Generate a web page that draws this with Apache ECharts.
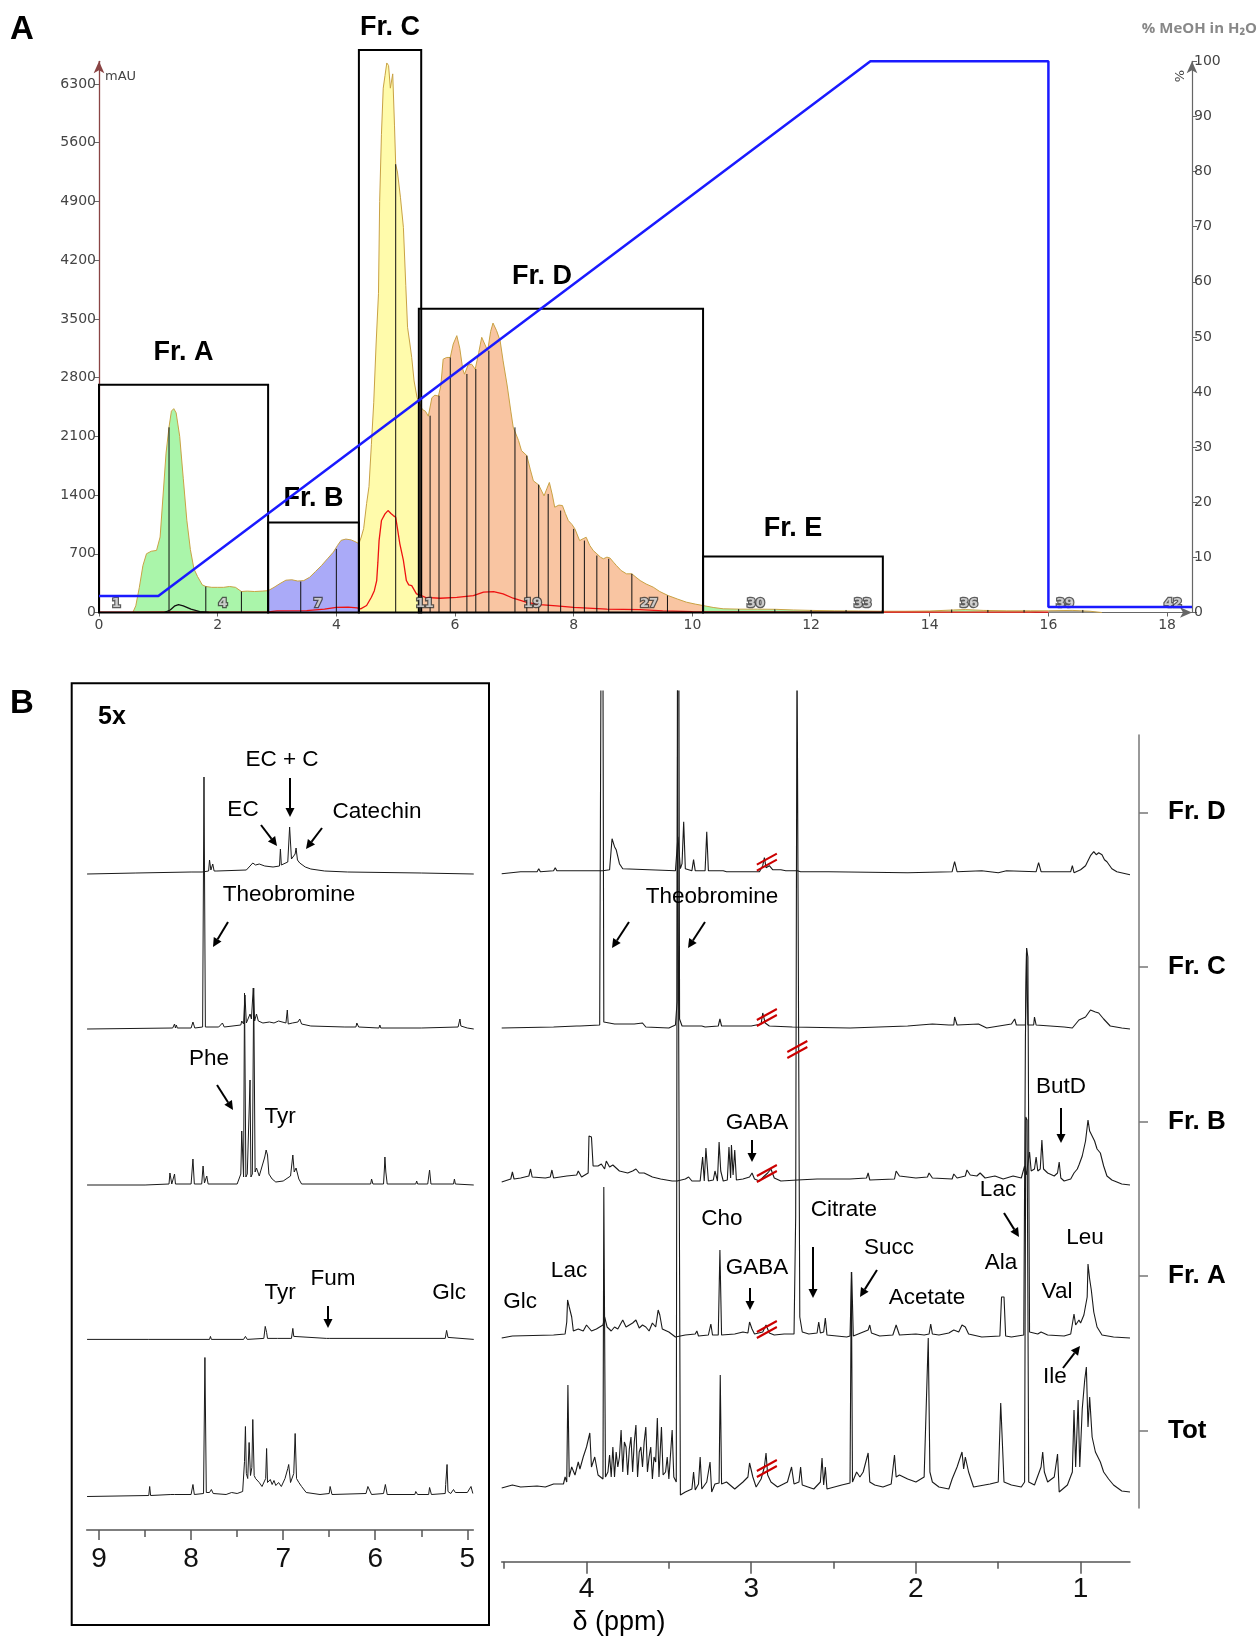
<!DOCTYPE html>
<html>
<head>
<meta charset="utf-8">
<script src="https://cdn.jsdelivr.net/npm/echarts@6/dist/echarts.min.js"></script>
<style>
  html, body { margin: 0; padding: 0; background: #fff; }
  #chart { width: 1259px; height: 1637px; }
</style>
</head>
<body>
<div id="chart"></div>
<script>
// ---------- panel A: chromatogram ----------
const chromatogram = [
  [0, 0], [0.57, 0], [0.62, 80], [0.68, 300], [0.74, 560], [0.80, 700], [0.88, 730], [0.97, 740], [1.03, 900],
  [1.08, 1400], [1.13, 1900], [1.18, 2210], [1.22, 2400], [1.26, 2430], [1.30, 2380], [1.36, 2100], [1.42, 1600],
  [1.48, 1100], [1.54, 750], [1.60, 520], [1.66, 430], [1.74, 330], [1.80, 310], [1.90, 300], [2.00, 300],
  [2.10, 300], [2.20, 310], [2.30, 300], [2.40, 250], [2.50, 255], [2.62, 250], [2.75, 255], [2.85, 260],
  [2.95, 300], [3.05, 345], [3.15, 385], [3.25, 390], [3.35, 375], [3.45, 380], [3.55, 420], [3.65, 490],
  [3.75, 560], [3.85, 640], [3.95, 720], [4.02, 800], [4.08, 860], [4.16, 875], [4.25, 865], [4.33, 840], [4.38, 820],
  [4.42, 900], [4.46, 1000], [4.51, 1300], [4.55, 1500], [4.59, 2000], [4.63, 2500], [4.67, 3200], [4.71, 3800],
  [4.73, 4900], [4.76, 5700], [4.79, 6250], [4.82, 6400], [4.85, 6550], [4.88, 6520], [4.91, 6250], [4.95, 6420],
  [4.98, 5800], [5.00, 5340], [5.03, 5250], [5.08, 4950], [5.13, 4590], [5.17, 3900], [5.20, 3400], [5.24, 3200],
  [5.27, 3040], [5.31, 2760], [5.36, 2560], [5.40, 2500],
  [5.45, 2420], [5.50, 2400], [5.55, 2340], [5.58, 2350], [5.61, 2560], [5.66, 2590], [5.72, 2580], [5.76, 2700],
  [5.80, 3020], [5.86, 3040], [5.92, 3040], [5.97, 3200], [6.03, 3300], [6.08, 3150], [6.13, 2900], [6.16, 2840],
  [6.22, 2950], [6.28, 2960], [6.34, 2900], [6.40, 3100], [6.45, 3280], [6.50, 3200], [6.55, 3120], [6.60, 3350],
  [6.64, 3450], [6.70, 3360], [6.76, 3240], [6.81, 3000], [6.88, 2700], [6.94, 2400], [6.98, 2210], [7.01, 2220],
  [7.07, 2050], [7.12, 1930], [7.21, 1870], [7.27, 1700], [7.32, 1570], [7.41, 1520], [7.50, 1390], [7.55, 1480],
  [7.59, 1550], [7.64, 1400], [7.68, 1255], [7.75, 1280], [7.81, 1275], [7.86, 1180], [7.91, 1095], [7.97, 1050],
  [8.02, 997], [8.10, 857], [8.16, 880], [8.21, 897], [8.27, 800], [8.33, 738], [8.39, 700], [8.45, 660],
  [8.50, 640], [8.56, 660], [8.61, 650], [8.67, 600], [8.72, 560], [8.80, 500], [8.89, 461], [8.98, 461],
  [9.05, 420], [9.12, 381], [9.22, 340], [9.34, 302], [9.45, 250], [9.59, 202], [9.75, 160], [9.90, 123],
  [10.05, 100], [10.18, 83],
  [10.35, 60], [10.52, 44], [10.8, 40], [11.1, 40], [11.4, 38], [11.7, 30], [12.0, 25], [12.4, 20], [12.8, 18],
  [13.2, 15], [13.6, 15], [14.0, 18], [14.4, 30], [14.6, 35], [14.9, 25], [15.3, 20], [15.7, 20], [16.0, 20],
  [16.4, 25], [16.7, 15], [16.9, 0]
];
const redTrace = [
  [0, 5], [0.6, 5], [1.2, 8], [1.6, 5], [2.0, 5], [2.85, 8], [3.0, 20], [3.5, 22], [3.8, 40], [4.0, 60], [4.2, 65],
  [4.35, 55], [4.41, 44], [4.51, 83], [4.59, 182], [4.64, 260], [4.68, 381], [4.70, 600], [4.72, 857], [4.76, 1096],
  [4.82, 1175], [4.87, 1215], [4.92, 1180], [4.96, 1155], [5.00, 1135], [5.03, 1000], [5.07, 818], [5.13, 620],
  [5.18, 381], [5.22, 330], [5.27, 321], [5.35, 222], [5.44, 200], [5.5, 180], [5.75, 170], [6.03, 180],
  [6.31, 200], [6.48, 242], [6.65, 250], [6.81, 222], [6.98, 170], [7.21, 120], [7.43, 95], [7.71, 80],
  [8.0, 60], [8.56, 40], [9.12, 35], [9.5, 20], [10.0, 10], [12, 5], [16, 5]
];
const blackTrace = [[1.10, 0], [1.20, 30], [1.28, 80], [1.34, 95], [1.42, 80], [1.55, 40], [1.70, 10], [1.85, 0]];
const gradient = [[0, 3], [1, 3], [13, 100], [16, 100], [16, 1], [18.42, 1]];

const fracBounds = [0.57, 2.85, 4.38, 5.40, 10.18, 16.0, 16.9];
const fracColors = ['#aaf5aa', '#aaaaf8', '#fffbab', '#f9c5a2', '#aaf5aa', '#a0a0a0'];
const fracLines = [
  [1.18, 2207], [1.80, 310], [2.40, 250], [3.40, 369], [4.00, 758], [5.00, 5344],
  [5.58, 2346], [5.73, 2584], [5.92, 3040], [6.20, 2843], [6.35, 2902], [6.57, 3120], [7.01, 2207], [7.21, 1870],
  [7.41, 1524], [7.57, 1413], [7.78, 1215], [8.00, 997], [8.18, 857], [8.39, 679], [8.59, 640], [8.98, 461],
  [9.58, 202], [10.78, 40], [11.39, 38], [12.0, 30], [12.59, 30], [13.2, 28], [14.37, 35], [14.98, 30],
  [15.59, 30], [16.58, 30]
];
const fracNumberX = [0.29, 2.09, 3.69, 5.49, 7.31, 9.27, 11.07, 12.87, 14.66, 16.28, 18.1];
const fracNumberText = ['1', '4', '7', '11', '19', '27', '30', '33', '36', '39', '42'];
const boxes = [[0, 2.85, 2715], [2.85, 4.38, 1072], [4.38, 5.43, 6705], [5.39, 10.18, 3620], [10.18, 13.21, 667]];
const boxLabels = ['Fr. A', 'Fr. B', 'Fr. C', 'Fr. D', 'Fr. E'];
const boxLabelShift = [0, 0, 0, -19, 0];
const boxLabelLift = [32, 24, 22, 32, 28];

const mauTicks = [0, 700, 1400, 2100, 2800, 3500, 4200, 4900, 5600, 6300];
const pctTicks = [0, 10, 20, 30, 40, 50, 60, 70, 80, 90, 100];
const timeTicks = [0, 2, 4, 6, 8, 10, 12, 14, 16, 18];

// ---------- panel B: NMR traces (ppm, intensity) ----------
const leftD = [[9.13,0],[8.6,1],[8.0,2],[7.88,2],[7.81,3],[7.80,14],[7.785,4],[7.765,10],[7.75,3],[7.72,3],[7.40,4],[7.36,8],[7.33,11],[7.30,9],[7.26,10],[7.20,8],[7.11,7],[7.04,8],[7.03,25],[7.02,9],[7.00,7],[6.95,12],[6.93,47],[6.91,15],[6.89,14],[6.87,20],[6.86,26],[6.845,14],[6.82,11],[6.76,7],[6.70,5],[6.55,3],[6.3,2],[5.5,1],[4.93,0]];
const leftC = [[9.13,0],[8.2,1],[8.18,5],[8.17,1],[8.16,4],[8.15,1],[8.0,1],[7.98,7],[7.96,1],[7.875,2],[7.86,252],[7.845,2],[7.70,2],[7.66,6],[7.64,2],[7.46,4],[7.45,8],[7.43,5],[7.415,34],[7.40,6],[7.38,8],[7.36,15],[7.345,10],[7.325,41],[7.31,8],[7.29,15],[7.27,8],[7.22,6],[7.15,7],[7.10,6],[7.05,8],[6.97,6],[6.955,19],[6.945,5],[6.90,6],[6.84,7],[6.82,10],[6.80,5],[6.70,3],[6.33,2],[6.32,4],[6.31,2],[6.21,2],[6.20,6],[6.18,2],[5.96,1],[5.95,4],[5.94,1],[5.5,1],[5.10,2],[5.08,10],[5.07,3],[5.0,1],[4.93,0]];
const leftB = [[9.13,0],[8.5,0],[8.24,1],[8.23,12],[8.21,1],[8.19,1],[8.18,11],[8.17,1],[8.0,1],[7.98,26],[7.965,1],[7.885,1],[7.87,19],[7.855,2],[7.83,9],[7.815,1],[7.50,1],[7.46,11],[7.45,54],[7.43,8],[7.42,192],[7.405,8],[7.39,11],[7.37,9],[7.36,105],[7.35,8],[7.335,11],[7.32,197],[7.305,13],[7.29,17],[7.26,9],[7.20,28],[7.185,35],[7.17,30],[7.155,11],[7.12,6],[7.08,3],[7.0,4],[6.92,9],[6.895,30],[6.88,13],[6.86,17],[6.85,15],[6.83,6],[6.80,1],[6.1,1],[6.05,1],[6.04,6],[6.025,1],[5.91,1],[5.90,17],[5.895,28],[5.885,13],[5.87,1],[5.56,1],[5.55,4],[5.54,1],[5.43,1],[5.41,15],[5.395,1],[5.15,1],[5.14,6],[5.13,1],[4.93,0]];
const leftA = [[9.13,0],[8.46,0],[8.45,2],[8.44,0],[7.80,0],[7.79,3],[7.78,0],[7.43,0],[7.41,3],[7.39,0],[7.21,1],[7.195,13],[7.18,7],[7.17,1],[7.06,1],[7.05,3],[7.04,1],[6.91,1],[6.895,11],[6.885,3],[6.87,1],[6.53,1],[6.52,2],[6.50,1],[5.24,1],[5.225,9],[5.21,2],[5.19,0],[4.93,0]];
const leftTot = [[9.13,-1],[8.46,0],[8.45,9],[8.44,0],[8.22,1],[8.20,3],[8.18,1],[8.0,1],[7.98,11],[7.965,1],[7.865,2],[7.85,138],[7.835,3],[7.80,3],[7.78,6],[7.76,2],[7.62,1],[7.56,3],[7.50,2],[7.44,4],[7.42,34],[7.41,69],[7.40,22],[7.385,17],[7.37,53],[7.355,20],[7.34,28],[7.33,76],[7.315,20],[7.30,17],[7.26,13],[7.23,9],[7.19,17],[7.18,47],[7.17,13],[7.14,16],[7.12,11],[7.10,15],[7.08,10],[7.05,13],[7.02,9],[6.98,17],[6.95,27],[6.94,31],[6.92,13],[6.885,22],[6.87,62],[6.855,17],[6.83,13],[6.80,9],[6.75,3],[6.60,1],[6.50,2],[6.49,9],[6.47,1],[6.10,2],[6.08,9],[6.06,8],[6.04,1],[5.91,2],[5.89,11],[5.87,1],[5.57,1],[5.56,4],[5.54,1],[5.42,1],[5.41,8],[5.39,1],[5.24,2],[5.235,11],[5.22,31],[5.21,4],[5.18,2],[5.15,6],[5.13,3],[5.0,3],[4.96,9],[4.94,2]];

const rightD = [[4.515,-2],[4.40,0],[4.30,0],[4.29,3],[4.28,0],[4.20,1],[4.19,4],[4.18,1],[3.90,1],[3.86,2],[3.845,33],[3.83,25],[3.82,22],[3.80,8],[3.78,3],[3.46,1],[3.445,35],[3.43,3],[3.42,8],[3.41,50],[3.40,3],[3.36,1],[3.35,12],[3.34,1],[3.28,1],[3.27,40],[3.26,1],[3.17,1],[3.16,3],[3.15,0],[2.95,0],[2.93,6],[2.92,14],[2.91,4],[2.89,6],[2.87,2],[2.82,2],[2.79,1],[2.72,1],[2.70,0],[2.56,0],[2.55,2],[2.53,0],[2.05,-1],[1.78,0],[1.765,10],[1.75,0],[1.60,1],[1.50,-1],[1.45,1],[1.27,0],[1.255,9],[1.24,0],[1.06,0],[1.05,6],[1.04,-1],[1.0,2],[0.97,6],[0.94,16],[0.92,20],[0.905,17],[0.89,19],[0.87,17],[0.855,12],[0.84,10],[0.81,3],[0.78,0],[0.70,-3]];
const rightC = [[4.515,-1],[4.2,0],[4.06,1],[4.05,3],[4.04,1],[3.92,2],[3.905,700],[3.895,5],[3.83,3],[3.82,5],[3.80,3],[3.71,3],[3.70,5],[3.66,4],[3.64,0],[3.50,-1],[3.46,2],[3.45,25],[3.443,700],[3.435,8],[3.42,1],[3.30,1],[3.28,0],[3.20,1],[3.19,8],[3.18,1],[3.0,1],[2.94,3],[2.93,14],[2.915,4],[2.89,1],[2.75,0],[2.40,-1],[2.05,1],[1.90,3],[1.80,2],[1.77,2],[1.765,10],[1.75,2],[1.62,3],[1.57,-1],[1.42,3],[1.40,8],[1.39,2],[1.335,2],[1.328,79],[1.32,2],[1.285,2],[1.28,10],[1.27,2],[1.10,0],[1.05,-1],[1.01,7],[0.97,10],[0.94,17],[0.93,19],[0.91,15],[0.89,14],[0.86,8],[0.82,1],[0.75,-1],[0.70,-2]];
const rightB = [[4.515,-1],[4.46,2],[4.45,9],[4.44,2],[4.40,3],[4.35,5],[4.34,12],[4.33,4],[4.25,3],[4.22,4],[4.21,11],[4.20,3],[4.12,5],[4.06,6],[4.05,10],[4.03,4],[3.99,8],[3.985,45],[3.97,44],[3.96,15],[3.93,15],[3.91,17],[3.89,12],[3.88,20],[3.86,14],[3.84,16],[3.83,18],[3.80,10],[3.75,8],[3.72,10],[3.70,12],[3.68,8],[3.65,8],[3.60,4],[3.55,2],[3.48,0],[3.45,0],[3.40,2],[3.38,4],[3.36,0],[3.31,0],[3.295,24],[3.285,0],[3.275,33],[3.26,0],[3.23,1],[3.22,10],[3.205,0],[3.195,39],[3.185,10],[3.17,0],[3.145,1],[3.135,34],[3.125,3],[3.12,36],[3.11,6],[3.10,31],[3.09,1],[3.05,2],[3.01,4],[2.995,8],[2.98,2],[2.95,0],[2.92,5],[2.90,8],[2.88,12],[2.86,3],[2.82,0],[2.72,1],[2.60,2],[2.40,2],[2.30,3],[2.29,8],[2.28,1],[2.13,2],[2.12,10],[2.10,5],[2.00,3],[1.93,4],[1.92,8],[1.90,3],[1.78,2],[1.77,7],[1.75,3],[1.70,5],[1.69,11],[1.67,6],[1.63,5],[1.61,8],[1.58,3],[1.52,5],[1.47,2],[1.41,5],[1.36,3],[1.35,2],[1.34,15],[1.33,6],[1.31,29],[1.30,10],[1.28,12],[1.27,24],[1.26,10],[1.245,12],[1.235,41],[1.225,12],[1.20,8],[1.16,5],[1.14,8],[1.13,19],[1.12,3],[1.10,0],[1.06,2],[1.04,8],[1.02,12],[1.01,16],[0.99,25],[0.97,40],[0.955,61],[0.945,50],[0.93,45],[0.915,40],[0.90,32],[0.88,28],[0.86,15],[0.84,5],[0.81,1],[0.75,-3],[0.70,-4]];
const rightA = [[4.515,-1],[4.45,1],[4.20,2],[4.13,3],[4.12,15],[4.115,37],[4.105,30],[4.09,20],[4.08,6],[4.05,8],[4.02,6],[4.00,12],[3.99,13],[3.97,6],[3.94,8],[3.92,10],[3.90,12],[3.89,20],[3.875,10],[3.85,6],[3.83,10],[3.81,8],[3.79,14],[3.78,17],[3.76,10],[3.74,12],[3.72,14],[3.70,17],[3.68,9],[3.66,12],[3.64,10],[3.62,6],[3.60,14],[3.58,10],[3.565,27],[3.555,22],[3.54,8],[3.50,5],[3.46,0],[3.40,2],[3.34,3],[3.33,6],[3.32,1],[3.26,2],[3.245,13],[3.235,2],[3.20,2],[3.19,87],[3.18,2],[3.10,3],[3.05,5],[3.02,4],[3.01,15],[2.995,8],[2.98,3],[2.93,5],[2.91,12],[2.89,4],[2.86,2],[2.80,3],[2.74,3],[2.73,120],[2.722,700],[2.712,700],[2.705,20],[2.69,5],[2.65,3],[2.60,4],[2.59,15],[2.58,4],[2.56,5],[2.55,19],[2.54,2],[2.42,0],[2.40,1],[2.39,65],[2.38,1],[2.35,3],[2.32,5],[2.29,7],[2.28,12],[2.27,4],[2.22,1],[2.14,2],[2.12,12],[2.10,2],[2.0,3],[1.95,2],[1.92,3],[1.91,13],[1.90,3],[1.86,2],[1.80,4],[1.77,7],[1.74,5],[1.72,12],[1.70,10],[1.68,3],[1.60,0],[1.49,1],[1.48,40],[1.465,40],[1.455,1],[1.42,0],[1.345,2],[1.335,300],[1.328,389],[1.320,380],[1.31,5],[1.26,3],[1.24,5],[1.20,2],[1.10,1],[1.06,3],[1.04,23],[1.03,12],[1.01,17],[1.00,14],[0.98,22],[0.96,40],[0.955,73],[0.945,58],[0.935,47],[0.92,25],[0.90,10],[0.87,2],[0.80,0],[0.70,-1]];
const rightTot = [[4.515,-1],[4.45,2],[4.40,0],[4.30,1],[4.25,0],[4.20,3],[4.14,3],[4.13,10],[4.12,5],[4.113,102],[4.105,10],[4.09,20],[4.07,12],[4.05,25],[4.04,18],[4.02,30],[4.00,40],[3.98,54],[3.97,20],[3.95,30],[3.93,12],[3.90,8],[3.895,300],[3.885,10],[3.87,15],[3.86,32],[3.85,10],[3.84,40],[3.83,10],[3.82,35],[3.81,20],[3.80,30],[3.79,57],[3.78,15],[3.77,45],[3.76,40],[3.75,12],[3.74,38],[3.73,50],[3.72,15],[3.71,45],[3.70,62],[3.69,10],[3.68,35],[3.67,40],[3.66,20],[3.65,45],[3.64,60],[3.63,15],[3.62,30],[3.61,40],[3.60,8],[3.59,30],[3.58,25],[3.57,69],[3.56,10],[3.545,60],[3.535,12],[3.52,15],[3.51,30],[3.50,8],[3.48,57],[3.47,10],[3.455,5],[3.448,800],[3.438,800],[3.43,-8],[3.40,-5],[3.36,-2],[3.35,15],[3.34,-3],[3.32,3],[3.31,30],[3.30,-2],[3.27,5],[3.25,25],[3.24,-5],[3.22,3],[3.195,4],[3.188,112],[3.18,3],[3.15,5],[3.10,-2],[3.05,5],[3.02,10],[3.01,24],[2.99,10],[2.97,0],[2.94,8],[2.92,20],[2.91,34],[2.90,12],[2.88,5],[2.84,0],[2.78,5],[2.755,20],[2.74,3],[2.71,5],[2.70,20],[2.69,2],[2.62,-2],[2.58,5],[2.57,29],[2.56,2],[2.55,20],[2.54,-2],[2.45,2],[2.40,4],[2.392,215],[2.385,5],[2.36,15],[2.34,10],[2.32,15],[2.29,34],[2.28,5],[2.25,2],[2.20,0],[2.15,3],[2.13,32],[2.12,10],[2.10,12],[2.05,8],[2.00,5],[1.95,10],[1.925,149],[1.915,15],[1.90,5],[1.86,0],[1.80,-2],[1.78,8],[1.75,20],[1.72,35],[1.71,18],[1.70,30],[1.68,15],[1.65,0],[1.55,3],[1.50,5],[1.485,84],[1.475,84],[1.465,5],[1.42,2],[1.36,0],[1.34,5],[1.333,370],[1.325,367],[1.315,5],[1.28,2],[1.24,20],[1.23,35],[1.22,15],[1.20,5],[1.16,10],[1.14,33],[1.13,-5],[1.08,2],[1.05,15],[1.04,77],[1.03,20],[1.015,87],[1.005,20],[0.99,78],[0.975,107],[0.965,120],[0.955,60],[0.945,90],[0.93,50],[0.91,35],[0.88,25],[0.86,15],[0.83,8],[0.80,2],[0.75,-4],[0.70,-5]];

const stackLabels = ['Fr. D', 'Fr. C', 'Fr. B', 'Fr. A', 'Tot'];
const nmrLeftTicks = [5, 6, 7, 8, 9];
const nmrLeftMinor = [5.5, 6.5, 7.5, 8.5];
const nmrRightTicks = [1, 2, 3, 4];
const nmrRightMinor = [1.5, 2.5, 3.5, 4.5];
// [ppm, trace index, lift] of the red "//" break marks
const breakMarks = [[2.905, 0, 10], [2.905, 1, 10], [2.72, 1, -22], [2.905, 2, 8], [2.905, 3, 8], [2.905, 4, 19]];

// layout: baseline of each trace above its grid bottom (px)
const leftOffsets = [656, 501, 345, 190.6, 34.5];
const rightOffsets = [690, 534.7, 380.7, 224.7, 74.7];

const chart = echarts.init(document.getElementById('chart'));
const sans = '"Liberation Sans", Arial, sans-serif';
const gray = '#555';

const segSeries = fracColors.map((c, i) => ({
  type: 'line', xAxisIndex: 0, yAxisIndex: 0, showSymbol: false, silent: true, z: 2,
  data: chromatogram.filter(p => p[0] >= fracBounds[i] && p[0] <= fracBounds[i + 1]),
  lineStyle: { color: '#c9a244', width: 1 },
  areaStyle: { color: c, opacity: 1 }
}));

function stacked(arr, off) { return arr.map(p => [p[0], off + p[1]]); }
function nmrSeries(arr, grid, off, width) {
  return {
    type: 'line', xAxisIndex: grid === 1 ? 1 : 3, yAxisIndex: grid === 1 ? 2 : 3,
    showSymbol: false, silent: true, z: 3,
    data: stacked(arr, off),
    lineStyle: { color: '#1a1a1a', width: width }
  };
}

function arrow(x1, y1, x2, y2) {
  const a = Math.atan2(y2 - y1, x2 - x1), L = 9, W = 4.5;
  const bx = x2 - L * Math.cos(a), by = y2 - L * Math.sin(a);
  const px = -Math.sin(a) * W, py = Math.cos(a) * W;
  return [
    { type: 'line', z: 50, shape: { x1, y1, x2: bx, y2: by }, style: { stroke: '#000', lineWidth: 2 } },
    { type: 'polygon', z: 50, shape: { points: [[x2, y2], [bx + px, by + py], [bx - px, by - py]] }, style: { fill: '#000' } }
  ];
}
function label(text, x, y, font) {
  return { type: 'text', z: 50, x, y, style: { text, font: font || ('22.5px ' + sans), fill: '#000', align: 'center', verticalAlign: 'middle' } };
}

const annotations = [
  ['EC + C', 282, 760], ['EC', 243, 810], ['Catechin', 377, 812], ['Theobromine', 289, 895], ['Phe', 209, 1059],
  ['Tyr', 280, 1117], ['Tyr', 280, 1293], ['Fum', 333, 1279], ['Glc', 449, 1293],
  ['Theobromine', 712, 897], ['GABA', 757, 1123], ['Cho', 722, 1219], ['Citrate', 844, 1210], ['Succ', 889, 1248],
  ['GABA', 757, 1268], ['Lac', 569, 1271], ['Glc', 520, 1302], ['Acetate', 927, 1298], ['Ala', 1001, 1263],
  ['Lac', 998, 1190], ['Leu', 1085, 1238], ['Val', 1057, 1292], ['Ile', 1055, 1377], ['ButD', 1061, 1087]
];
const arrows = [
  [290, 778, 290, 817], [261, 825, 277, 846], [322, 828, 306, 849], [228, 922, 213, 947], [217, 1085, 233, 1110],
  [328, 1306, 328, 1328], [629, 922, 612, 948], [705, 922, 688, 948], [752, 1140, 752, 1162], [813, 1247, 813, 1298],
  [877, 1270, 860, 1297], [750, 1288, 750, 1310], [1004, 1213, 1019, 1237], [1063, 1368, 1080, 1346],
  [1061, 1108, 1061, 1143]
];

const graphics = [
  label('A', 22, 30, 'bold 33px ' + sans),
  label('B', 22, 704, 'bold 33px ' + sans),
  { type: 'text', x: 105, y: 77, style: { text: 'mAU', font: '13px "DejaVu Sans"', fill: '#444', verticalAlign: 'middle' } },
  { type: 'text', x: 1181, y: 76, rotation: Math.PI / 2, style: { text: '%', font: '13px "DejaVu Sans"', fill: '#444', align: 'center', verticalAlign: 'middle' } },
  { type: 'text', x: 1257, y: 29, style: { text: '% MeOH in H\u2082O', font: 'bold 15px "Open Sans"', fill: '#888', align: 'right', verticalAlign: 'middle' } },
  { type: 'rect', shape: { x: 71.7, y: 683.3, width: 417.3, height: 941.7 }, style: { fill: 'none', stroke: '#000', lineWidth: 2 } },
  label('5x', 112, 717, 'bold 25px ' + sans),
  label('\u03b4 (ppm)', 619, 1623, '27px ' + sans)
];
annotations.forEach(a => graphics.push(label(a[0], a[1], a[2])));
arrows.forEach(a => graphics.push(...arrow(a[0], a[1], a[2], a[3])));

const nmrAxisCommon = {
  type: 'value', inverse: true, position: 'bottom', splitLine: { show: false },
  axisLine: { show: true, lineStyle: { color: gray, width: 1.5 } }
};
const plain = v => String(v);

const option = {
  animation: false,
  backgroundColor: '#fff',
  grid: [
    { left: 99, top: 61.3, width: 1093, height: 551.2, outerBoundsMode: 'none' },
    { left: 86.7, top: 691, width: 386.6, height: 839, outerBoundsMode: 'none' },
    { left: 501.7, top: 691, width: 628.3, height: 870.7, outerBoundsMode: 'none' },
    { left: 1139, top: 735, width: 1, height: 773, outerBoundsMode: 'none' }
  ],
  xAxis: [
    {
      gridIndex: 0, type: 'value', min: 0, max: 18.42, splitLine: { show: false },
      axisLine: { lineStyle: { color: '#666', width: 1.2 }, symbol: ['none', 'arrow'], symbolSize: [8, 12] },
      axisTick: { customValues: timeTicks, length: 4, lineStyle: { color: '#666' } },
      axisLabel: { customValues: timeTicks, formatter: plain, color: '#444', fontFamily: 'DejaVu Sans', fontSize: 14, margin: 6 }
    },
    Object.assign({}, nmrAxisCommon, {
      gridIndex: 1, min: 4.935, max: 9.134,
      axisTick: { customValues: nmrLeftTicks, length: 10, lineStyle: { color: gray, width: 1.5 } },
      axisLabel: { customValues: nmrLeftTicks, color: '#111', fontFamily: 'Liberation Sans', fontSize: 28, margin: 15 }
    }),
    Object.assign({}, nmrAxisCommon, {
      gridIndex: 1, min: 4.935, max: 9.134, axisLine: { show: false },
      axisTick: { customValues: nmrLeftMinor, length: 7, lineStyle: { color: gray, width: 1.5 } },
      axisLabel: { show: false }
    }),
    Object.assign({}, nmrAxisCommon, {
      gridIndex: 2, min: 0.70, max: 4.515,
      axisTick: { customValues: nmrRightTicks, length: 12, lineStyle: { color: gray, width: 1.5 } },
      axisLabel: { customValues: nmrRightTicks, color: '#111', fontFamily: 'Liberation Sans', fontSize: 28, margin: 14 }
    }),
    Object.assign({}, nmrAxisCommon, {
      gridIndex: 2, min: 0.70, max: 4.515, axisLine: { show: false },
      axisTick: { customValues: nmrRightMinor, length: 7, lineStyle: { color: gray, width: 1.5 } },
      axisLabel: { show: false }
    }),
    { gridIndex: 3, type: 'value', show: false }
  ],
  yAxis: [
    {
      gridIndex: 0, type: 'value', min: 0, max: 6570, splitLine: { show: false },
      axisLine: { show: true, lineStyle: { color: '#8a4444', width: 1.3 }, symbol: ['none', 'arrow'], symbolSize: [8, 12] },
      axisTick: { show: true, customValues: mauTicks, length: 5, lineStyle: { color: '#666' } },
      axisLabel: { customValues: mauTicks, formatter: plain, color: '#444', fontFamily: 'DejaVu Sans', fontSize: 14, margin: 3 }
    },
    {
      gridIndex: 0, type: 'value', position: 'right', min: 0, max: 100, splitLine: { show: false },
      axisLine: { show: true, lineStyle: { color: '#666', width: 1.2 }, symbol: ['none', 'arrow'], symbolSize: [8, 12] },
      axisTick: { show: true, customValues: pctTicks, length: 5, lineStyle: { color: '#666' } },
      axisLabel: { customValues: pctTicks, formatter: plain, color: '#444', fontFamily: 'DejaVu Sans', fontSize: 14, margin: 2 }
    },
    { gridIndex: 1, type: 'value', min: 0, max: 839, show: false },
    { gridIndex: 2, type: 'value', min: 0, max: 870.7, show: false },
    {
      gridIndex: 3, type: 'category', position: 'right', inverse: true, data: stackLabels,
      axisLine: { show: true, lineStyle: { color: '#777', width: 1.5 } },
      axisTick: { show: true, alignWithLabel: true, length: 9, lineStyle: { color: '#777', width: 1.5 } },
      axisLabel: { color: '#000', fontWeight: 'bold', fontSize: 26, fontFamily: 'Liberation Sans', margin: 28 }
    }
  ],
  graphic: graphics,
  series: [
    ...segSeries,
    {
      type: 'line', xAxisIndex: 0, yAxisIndex: 0, showSymbol: false, silent: true, z: 4,
      data: redTrace, lineStyle: { color: '#ee1111', width: 1.3 }
    },
    {
      type: 'line', xAxisIndex: 0, yAxisIndex: 0, showSymbol: false, silent: true, z: 4,
      data: blackTrace, lineStyle: { color: '#111', width: 1.3 }
    },
    {
      type: 'custom', xAxisIndex: 0, yAxisIndex: 0, z: 5, silent: true,
      data: fracLines,
      renderItem(params, api) {
        const a = api.coord([api.value(0), 0]), b = api.coord([api.value(0), api.value(1)]);
        return { type: 'line', shape: { x1: a[0], y1: a[1], x2: b[0], y2: b[1] }, style: { stroke: '#111', lineWidth: 1 } };
      }
    },
    {
      type: 'custom', xAxisIndex: 0, yAxisIndex: 0, z: 6, silent: true,
      data: boxes,
      renderItem(params, api) {
        const i = params.dataIndex;
        const a = api.coord([api.value(0), 0]), b = api.coord([api.value(1), api.value(2)]);
        return {
          type: 'group', children: [
            { type: 'rect', shape: { x: a[0], y: b[1], width: b[0] - a[0], height: a[1] - b[1] }, style: { fill: 'none', stroke: '#000', lineWidth: 2 } },
            { type: 'text', style: { text: boxLabels[i], x: (a[0] + b[0]) / 2 + boxLabelShift[i], y: b[1] - boxLabelLift[i], align: 'center', verticalAlign: 'middle', font: 'bold 27px ' + sans, fill: '#000' } }
          ]
        };
      }
    },
    {
      type: 'scatter', xAxisIndex: 0, yAxisIndex: 0, z: 7, silent: true, symbolSize: 0,
      data: fracNumberX.map((x, i) => ({ value: [x, 110], name: fracNumberText[i] })),
      label: {
        show: true, position: 'inside', formatter: p => p.name,
        fontFamily: 'DejaVu Sans', fontWeight: 'bold', fontSize: 13, color: '#e8e8e8',
        textBorderColor: '#333', textBorderWidth: 2.5
      }
    },
    {
      type: 'line', xAxisIndex: 0, yAxisIndex: 1, showSymbol: false, silent: true, z: 8,
      data: gradient, lineStyle: { color: '#1a1aff', width: 2.5 }
    },
    nmrSeries(leftD, 1, leftOffsets[0], 1),
    nmrSeries(leftC, 1, leftOffsets[1], 1),
    nmrSeries(leftB, 1, leftOffsets[2], 1),
    nmrSeries(leftA, 1, leftOffsets[3], 1),
    nmrSeries(leftTot, 1, leftOffsets[4], 1),
    nmrSeries(rightD, 2, rightOffsets[0], 1.1),
    nmrSeries(rightC, 2, rightOffsets[1], 1.1),
    nmrSeries(rightB, 2, rightOffsets[2], 1.1),
    nmrSeries(rightA, 2, rightOffsets[3], 1.1),
    nmrSeries(rightTot, 2, rightOffsets[4], 1.1),
    {
      type: 'custom', xAxisIndex: 3, yAxisIndex: 3, z: 9, silent: true,
      data: breakMarks.map(m => [m[0], rightOffsets[m[1]] + m[2]]),
      renderItem(params, api) {
        const c = api.coord([api.value(0), api.value(1)]);
        const st = { stroke: '#cc0000', lineWidth: 2 };
        return {
          type: 'group', children: [
            { type: 'line', shape: { x1: c[0] - 10, y1: c[1] + 3, x2: c[0] + 10, y2: c[1] - 8 }, style: st },
            { type: 'line', shape: { x1: c[0] - 10, y1: c[1] + 9, x2: c[0] + 10, y2: c[1] - 2 }, style: st }
          ]
        };
      }
    }
  ]
};
chart.setOption(option);
</script>
</body>
</html>
